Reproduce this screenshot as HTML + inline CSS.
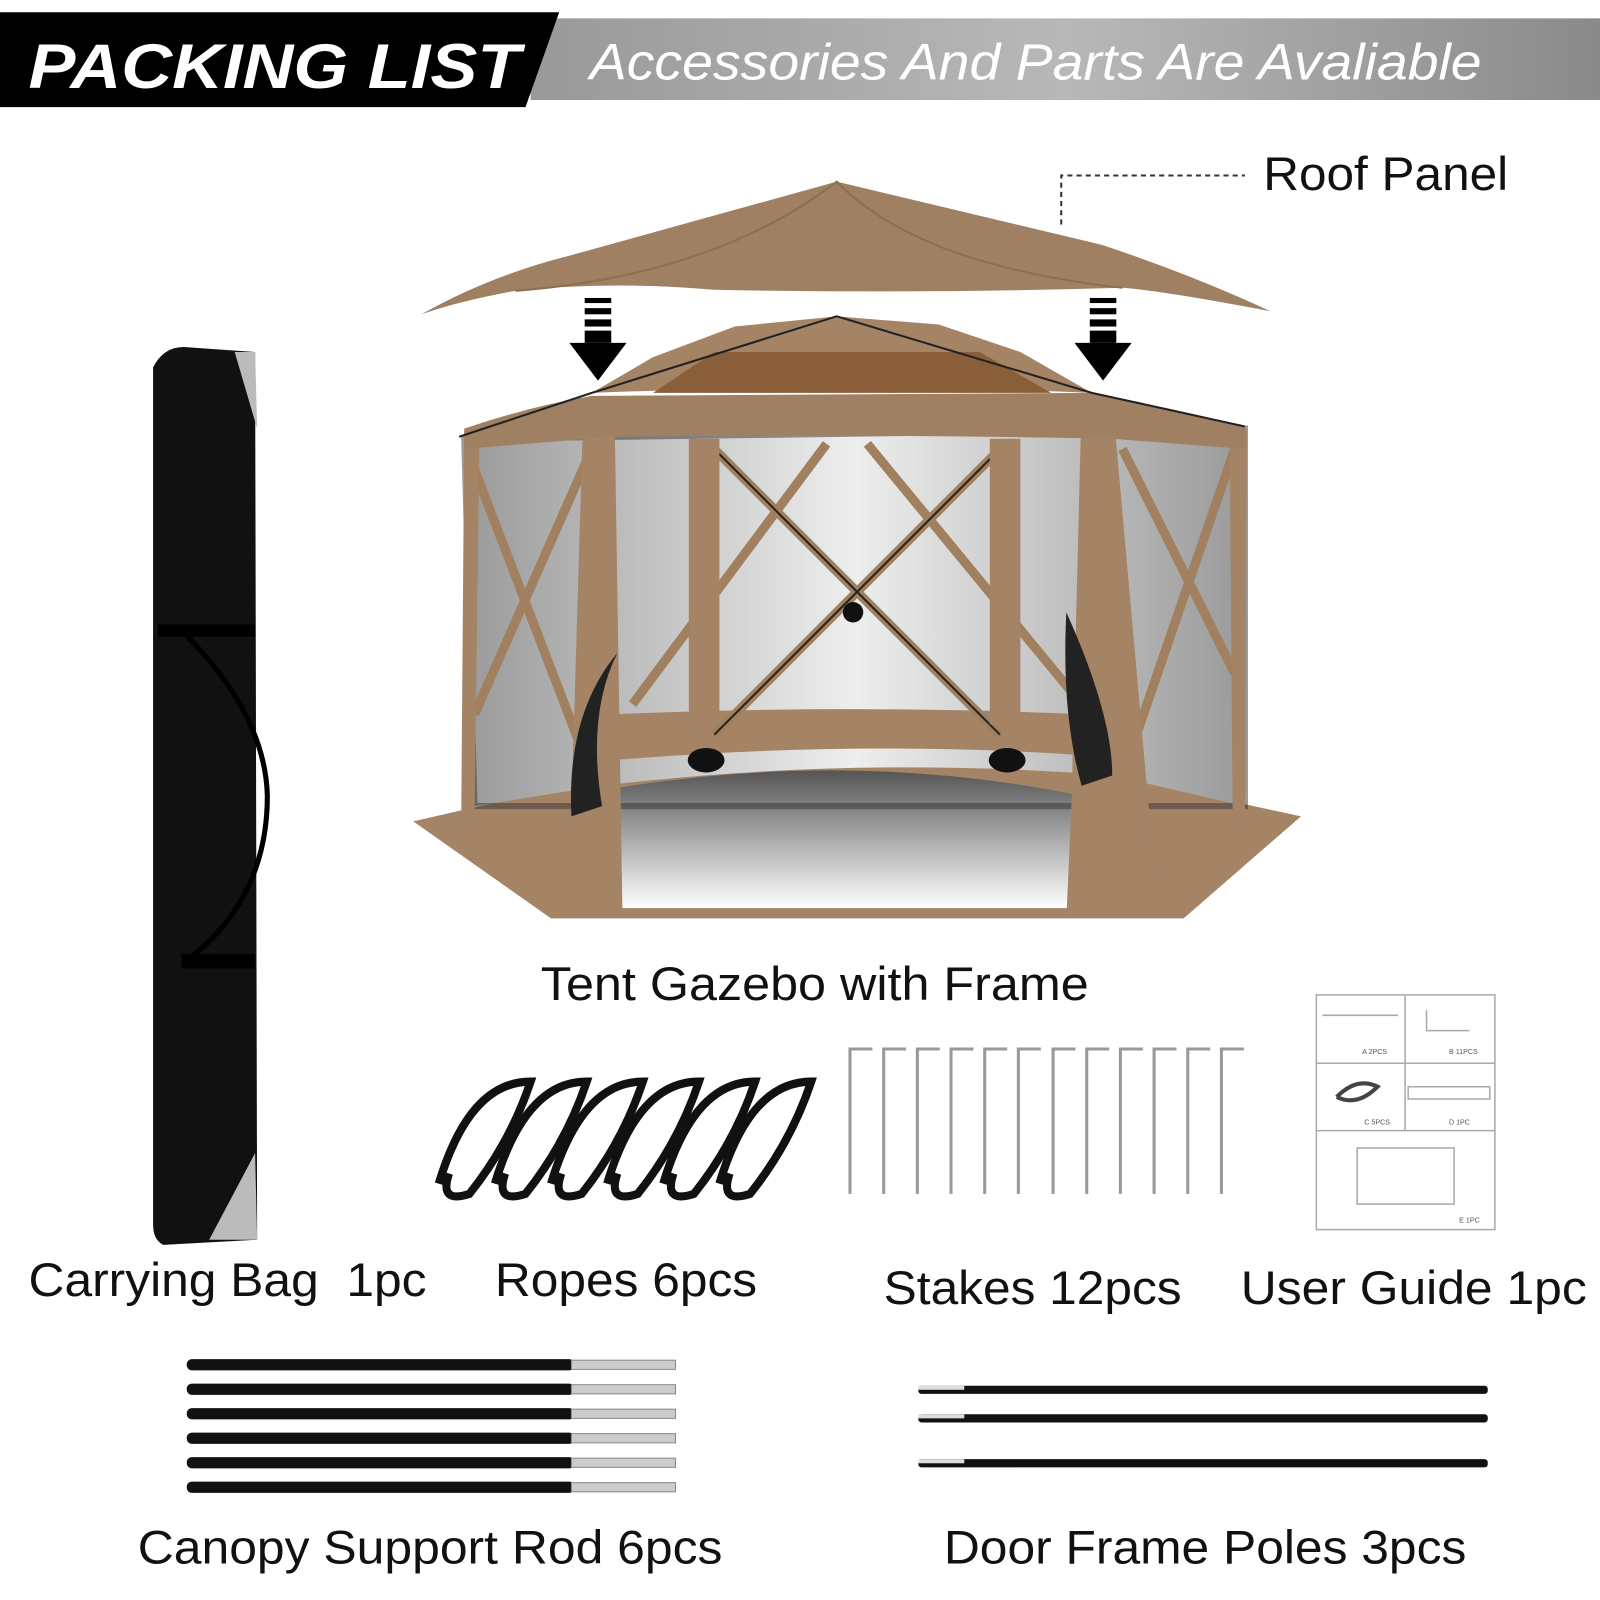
<!DOCTYPE html>
<html><head><meta charset="utf-8"><style>
html,body{margin:0;padding:0;background:#fff}
svg{display:block}
text{font-family:"Liberation Sans",sans-serif}
</style></head><body>
<svg width="1600" height="1600" viewBox="0 0 1568 1568" xmlns="http://www.w3.org/2000/svg">
<defs>
<linearGradient id="hg" x1="0" x2="1" y1="0" y2="0">
<stop offset="0" stop-color="#999"/><stop offset="0.5" stop-color="#b8b8b8"/><stop offset="1" stop-color="#8a8a8a"/>
</linearGradient>
<linearGradient id="fl" x1="0" x2="0" y1="0" y2="1">
<stop offset="0" stop-color="#555"/><stop offset="1" stop-color="#fff"/>
</linearGradient>
<linearGradient id="mesh" x1="0" x2="1"><stop offset="0" stop-color="#9a9a9a"/><stop offset="0.5" stop-color="#eeeeee"/><stop offset="1" stop-color="#9a9a9a"/></linearGradient>
</defs>
<rect x="520" y="18" width="1048" height="80" fill="url(#hg)"/>
<path d="M0 12 L548 12 L515 105 L0 105 Z" fill="#000"/>
<text x="28" y="86" font-size="62" font-weight="bold" font-style="italic" fill="#fff" textLength="482" lengthAdjust="spacingAndGlyphs">PACKING LIST</text>
<text x="578" y="78" font-size="50" font-style="italic" fill="#fff" textLength="874" lengthAdjust="spacingAndGlyphs">Accessories And Parts Are Avaliable</text>
<path d="M1040 220 L1040 172 L1220 172" fill="none" stroke="#333" stroke-width="2" stroke-dasharray="5,4"/>
<text x="1238" y="186" font-size="46" fill="#111" textLength="240" lengthAdjust="spacingAndGlyphs">Roof Panel</text>
<path d="M413 308 Q480 270 560 250 L820 178 L1080 240 Q1170 270 1245 305 Q1140 285 1100 282 Q900 288 700 284 Q600 275 505 285 Q450 295 413 308 Z" fill="#a08062"/>
<path d="M505 285 Q700 270 820 178 Q900 260 1100 282" fill="none" stroke="#8d6e52" stroke-width="2"/>
<g fill="#000">
<rect x="573" y="292" width="26" height="5"/><rect x="573" y="302" width="26" height="6"/><rect x="573" y="313" width="26" height="7"/><rect x="573" y="324" width="26" height="12"/>
<path d="M558 336 L614 336 L586 373 Z"/>
<rect x="1068" y="292" width="26" height="5"/><rect x="1068" y="302" width="26" height="6"/><rect x="1068" y="313" width="26" height="7"/><rect x="1068" y="324" width="26" height="12"/>
<path d="M1053 336 L1109 336 L1081 373 Z"/>
</g>
<path d="M405 805 L470 790 L600 760 Q840 735 1090 760 L1275 800 L1160 900 L540 900 Z" fill="#a58466"/>
<path d="M560 780 Q820 730 1060 780 L1080 890 L580 890 Z" fill="url(#fl)"/>
<path d="M455 430 L1220 420 L1220 790 L1090 760 Q840 740 590 770 L465 790 Z" fill="url(#mesh)"/>
<path d="M455 430 L1220 420 L1220 790 L465 790 Z" fill="none" stroke="#333" stroke-width="6" opacity="0.5"/>
<path d="M600 700 Q840 690 1060 700 L1060 740 Q840 725 600 745 Z" fill="#a58466"/>
<ellipse cx="692" cy="745" rx="18" ry="12" fill="#111"/><ellipse cx="987" cy="745" rx="18" ry="12" fill="#111"/>
<g stroke="#a0805f" stroke-width="9" fill="none">
<path d="M700 440 L980 720 M980 440 L700 720"/>
<path d="M465 460 L580 760 M580 440 L465 700"/>
<path d="M1100 440 L1210 660 M1210 440 L1100 760"/>
<path d="M810 435 L620 690 M850 435 L1060 690"/>
</g>
<g stroke="#222" stroke-width="2" fill="none">
<path d="M700 440 L980 720 M980 440 L700 720"/>
</g>
<circle cx="836" cy="600" r="10" fill="#111"/>
<g fill="#a58466">
<rect x="675" y="430" width="30" height="280"/><rect x="970" y="430" width="30" height="280"/>
<path d="M572 390 L602 390 L610 895 L540 900 L560 790 Z"/>
<path d="M1060 390 L1090 390 L1135 895 L1045 900 L1050 790 Z"/>
<path d="M455 420 L470 420 L465 800 L452 800 Z"/>
<path d="M1205 420 L1222 420 L1220 800 L1208 800 Z"/>
</g>
<path d="M605 640 Q575 700 590 790 L560 800 Q555 700 605 640 Z" fill="#222"/>
<path d="M1045 600 Q1090 700 1090 760 L1060 770 Q1040 700 1045 600 Z" fill="#222"/>
<path d="M455 420 Q520 398 580 388 L1070 385 Q1150 400 1220 418 L1220 440 L1090 430 Q840 425 600 428 L455 440 Z" fill="#a08062"/>
<path d="M580 385 L640 350 L720 320 L820 310 L920 318 L1000 345 L1070 385 Q840 375 580 385 Z" fill="#a58466"/>
<path d="M640 385 L700 345 L960 345 L1030 385 Z" fill="#8a5e38"/>
<path d="M450 428 L580 385 L820 310 L1070 385 L1220 418" fill="none" stroke="#222" stroke-width="2"/>
<path d="M150 360 Q160 340 180 340 L250 345 L252 1215 L160 1220 Q150 1215 150 1200 Z" fill="#111"/>
<path d="M230 345 L250 345 L252 420 Z" fill="#bbb"/>
<path d="M205 1215 L250 1130 L252 1215 Z" fill="#bbb"/>
<rect x="155" y="612" width="95" height="12" fill="#000"/>
<rect x="178" y="935" width="72" height="14" fill="#000"/>
<path d="M180 620 Q260 700 262 780 Q262 880 185 940" fill="none" stroke="#000" stroke-width="5"/>
<g fill="none" stroke="#111" stroke-width="8">
<path d="M430 1160 Q460 1060 520 1060 Q500 1120 460 1170 Q430 1180 440 1150"/>
<path d="M485 1160 Q515 1060 575 1060 Q555 1120 515 1170 Q485 1180 495 1150"/>
<path d="M540 1160 Q570 1060 630 1060 Q610 1120 570 1170 Q540 1180 550 1150"/>
<path d="M595 1160 Q625 1060 685 1060 Q665 1120 625 1170 Q595 1180 605 1150"/>
<path d="M650 1160 Q680 1060 740 1060 Q720 1120 680 1170 Q650 1180 660 1150"/>
<path d="M705 1160 Q735 1060 795 1060 Q775 1120 735 1170 Q705 1180 715 1150"/>
</g>
<g fill="none" stroke="#999" stroke-width="3">
<path d="M833 1170 L833 1028 L855 1028"/><path d="M866 1170 L866 1028 L888 1028"/><path d="M899 1170 L899 1028 L921 1028"/>
<path d="M932 1170 L932 1028 L954 1028"/><path d="M965 1170 L965 1028 L987 1028"/><path d="M998 1170 L998 1028 L1020 1028"/>
<path d="M1032 1170 L1032 1028 L1054 1028"/><path d="M1065 1170 L1065 1028 L1087 1028"/><path d="M1098 1170 L1098 1028 L1120 1028"/>
<path d="M1131 1170 L1131 1028 L1153 1028"/><path d="M1164 1170 L1164 1028 L1186 1028"/><path d="M1197 1170 L1197 1028 L1219 1028"/>
</g>
<g fill="none" stroke="#aaa" stroke-width="1.5">
<rect x="1290" y="975" width="175" height="230"/>
<path d="M1290 1042 L1465 1042 M1290 1108 L1465 1108 M1377 975 L1377 1108"/>
<path d="M1296 995 L1370 995 M1398 990 L1398 1010 L1440 1010"/>
<rect x="1380" y="1065" width="80" height="12"/>
<rect x="1330" y="1125" width="95" height="55"/>
</g>
<g font-size="7" fill="#555"><text x="1335" y="1033">A 2PCS</text><text x="1420" y="1033">B 11PCS</text><text x="1337" y="1102">C 5PCS</text><text x="1420" y="1102">D 1PC</text><text x="1430" y="1198">E 1PC</text></g>
<path d="M1310 1075 Q1330 1055 1350 1065 Q1330 1085 1310 1075" fill="none" stroke="#444" stroke-width="4"/>
<g font-size="46" fill="#111" lengthAdjust="spacingAndGlyphs">
<text x="530" y="980" textLength="537" lengthAdjust="spacingAndGlyphs">Tent Gazebo with Frame</text>
<text x="28" y="1270" textLength="390" lengthAdjust="spacingAndGlyphs">Carrying Bag&#160; 1pc</text>
<text x="485" y="1270" textLength="257" lengthAdjust="spacingAndGlyphs">Ropes 6pcs</text>
<text x="866" y="1278" textLength="292" lengthAdjust="spacingAndGlyphs">Stakes 12pcs</text>
<text x="1216" y="1278" textLength="339" lengthAdjust="spacingAndGlyphs">User Guide 1pc</text>
<text x="135" y="1532" textLength="573" lengthAdjust="spacingAndGlyphs">Canopy Support Rod 6pcs</text>
<text x="925" y="1532" textLength="512" lengthAdjust="spacingAndGlyphs">Door Frame Poles 3pcs</text>
</g>
<g fill="#111">
<rect x="183" y="1332" width="380" height="11" rx="5"/><rect x="183" y="1356" width="380" height="11" rx="5"/><rect x="183" y="1380" width="380" height="11" rx="5"/>
<rect x="183" y="1404" width="380" height="11" rx="5"/><rect x="183" y="1428" width="380" height="11" rx="5"/><rect x="183" y="1452" width="380" height="11" rx="5"/>
</g>
<g fill="#ccc" stroke="#888" stroke-width="1">
<rect x="560" y="1333" width="102" height="9"/><rect x="560" y="1357" width="102" height="9"/><rect x="560" y="1381" width="102" height="9"/>
<rect x="560" y="1405" width="102" height="9"/><rect x="560" y="1429" width="102" height="9"/><rect x="560" y="1453" width="102" height="9"/>
</g>
<g fill="#111">
<rect x="900" y="1358" width="558" height="8" rx="3"/><rect x="900" y="1386" width="558" height="8" rx="3"/><rect x="900" y="1430" width="558" height="8" rx="3"/>
</g>
<g fill="#ddd"><rect x="900" y="1358" width="45" height="4"/><rect x="900" y="1386" width="45" height="4"/><rect x="900" y="1430" width="45" height="4"/></g>
</svg>
</body></html>
